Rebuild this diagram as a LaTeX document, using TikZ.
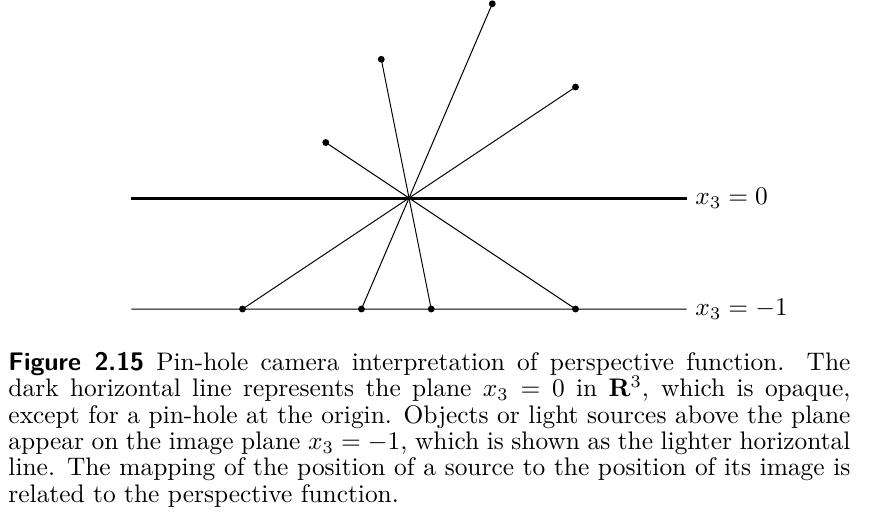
\documentclass[tikz,border=0pt]{standalone}
\usepackage{amsmath,amssymb}
\usepackage{tikz}
\usetikzlibrary{positioning,calc}

\begin{document}
\begin{tikzpicture}[scale=1.536,
  src/.style={circle,fill=black,inner sep=0pt,minimum size=2.7pt},
  plane/.style={line width=1.2pt},
  imgplane/.style={line width=0.4pt},
  ray/.style={line width=0.4pt}]
\useasboundingbox (-3.685,-2.910) rectangle (4.171,1.784);
% the opaque plane and the image plane
\coordinate (p0) at (-2.5,0);
\node[anchor=west] (lab0) at (2.5,0) {$x_3 = 0$};
\draw[plane] (p0) -- (lab0);
\coordinate (p1) at (-2.5,-1);
\node[anchor=west] (lab1) at (2.5,-1) {$x_3 = -1$};
\draw[imgplane] (p1) -- (lab1);
% sources, rays through the pin-hole, images
\foreach \x/\y/\n in {-0.75/0.5/1, -0.25/1.25/2, 0.75/1.75/3, 1.5/1/4} {
  \node[src] (s\n) at (\x,\y) {};
  \node[src] (i\n) at ({-\x/\y},-1) {};
  \draw[ray] (s\n.center) -- (i\n.center);
}
% caption
\node[anchor=north west,inner sep=0pt,text width=331.5pt,align=justify,
  font=\fontsize{10}{10.35}\selectfont] (cap) at (-3.613,-1.387)
  {\textsf{\bfseries Figure 2.15} Pin-hole camera interpretation of perspective function.  The\linebreak
  dark horizontal line represents the plane $x_3 = 0$ in $\mathbf{R}^3$, which is opaque,\linebreak
  except for a pin-hole at the origin. Objects or light sources above the plane\linebreak
  appear on the image plane $x_3 = -1$, which is shown as the lighter horizontal\linebreak
  line. The mapping of the position of a source to the position of its image is\linebreak
  related to the perspective function.};
\end{tikzpicture}
\end{document}
